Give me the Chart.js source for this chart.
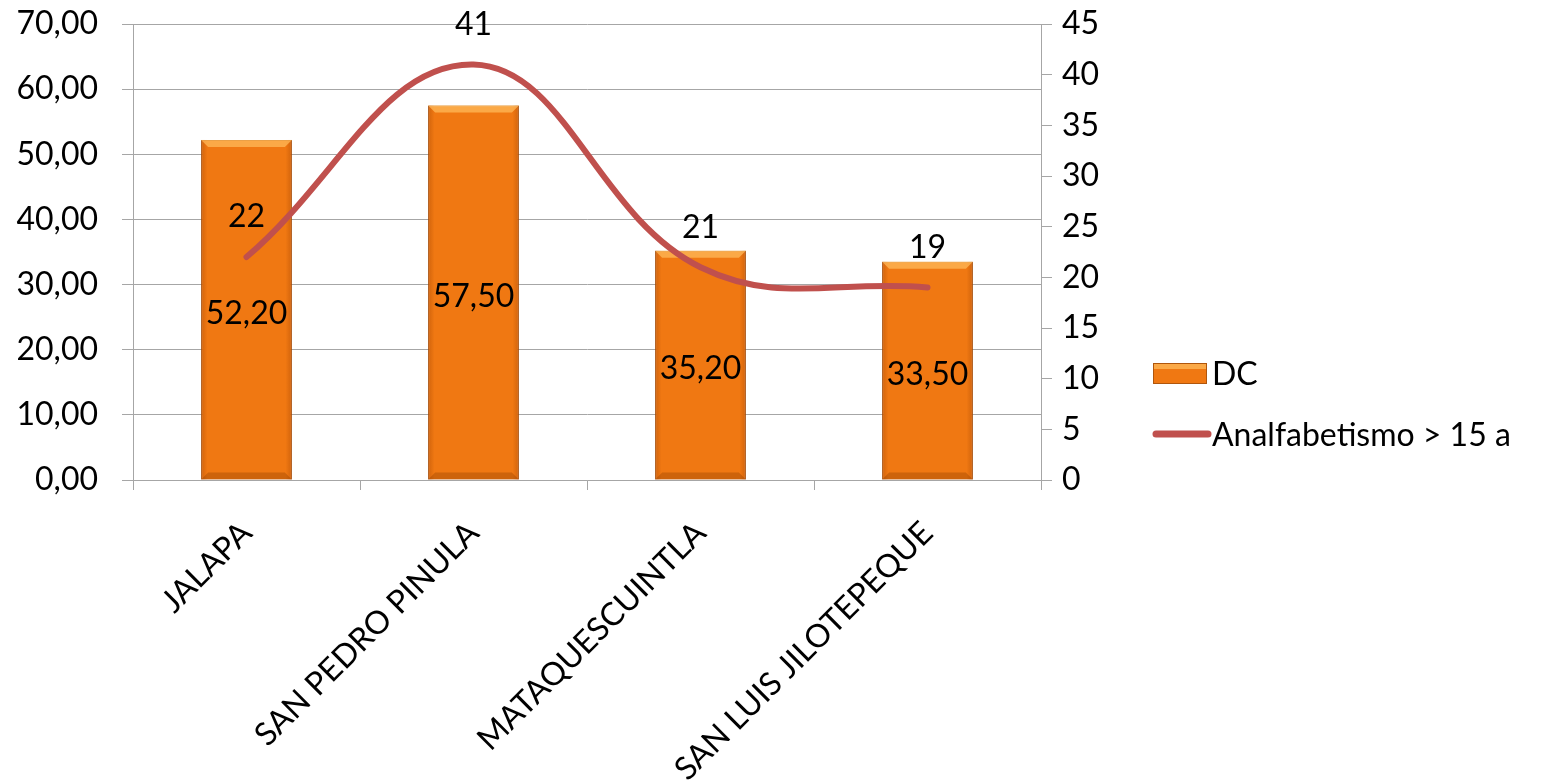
<!DOCTYPE html>
<html>
<head>
<meta charset="utf-8">
<script src="https://cdn.jsdelivr.net/npm/chart.js@4"></script>
<style>
  html, body { margin: 0; padding: 0; background: #fff; }
  #wrap { width: 1544px; height: 783px; }
</style>
</head>
<body>
<div id="wrap"><canvas id="chart" width="1544" height="783"></canvas></div>
<script>
const municipios = ["JALAPA", "SAN PEDRO PINULA", "MATAQUESCUINTLA", "SAN LUIS JILOTEPEQUE"];
const dc = [52.2, 57.5, 35.2, 33.5];
const analfabetismo = [22, 41, 21, 19];

const font = "Lato, 'Open Sans', sans-serif";
const fontSize = 32;
const barColor = "#F07812";
const lineColor = "#C0504D";
const gridColor = "#A6A6A6";

const comma = (v, d) => v.toFixed(d).replace(".", ",");

// value labels drawn on top of bars and line points
const valueLabels = {
  id: "valueLabels",
  afterDatasetsDraw(chart) {
    const ctx = chart.ctx;
    ctx.save();
    ctx.fillStyle = "#000";
    ctx.font = fontSize + "px " + font;
    ctx.textAlign = "center";
    ctx.textBaseline = "middle";
    chart.getDatasetMeta(0).data.forEach((bar, i) => {
      ctx.fillText(comma(dc[i], 2), bar.x, (bar.y + bar.base) / 2 + 4);
    });
    chart.getDatasetMeta(1).data.forEach((pt, i) => {
      ctx.fillText(String(analfabetismo[i]), pt.x, pt.y - 40);
    });
    ctx.restore();
  }
};

// bevel-ish shading on the bars
const barShade = {
  id: "barShade",
  afterDatasetDraw(chart, args) {
    if (args.index !== 0) return;
    const ctx = chart.ctx;
    ctx.save();
    args.meta.data.forEach((bar) => {
      const l = bar.x - bar.width / 2, r = bar.x + bar.width / 2;
      const t = bar.y, b = bar.base, e = 7;
      const g = ctx.createLinearGradient(l, 0, r, 0);
      g.addColorStop(0, "rgba(150,60,0,0.35)");
      g.addColorStop(0.07, "rgba(150,60,0,0)");
      g.addColorStop(0.93, "rgba(150,60,0,0)");
      g.addColorStop(1, "rgba(150,60,0,0.35)");
      ctx.fillStyle = g;
      ctx.fillRect(l, t, r - l, b - t);
      ctx.fillStyle = "rgba(255,185,90,0.75)";
      ctx.beginPath();
      ctx.moveTo(l, t); ctx.lineTo(r, t); ctx.lineTo(r - e, t + e); ctx.lineTo(l + e, t + e);
      ctx.closePath(); ctx.fill();
      ctx.fillStyle = "rgba(140,60,0,0.35)";
      ctx.beginPath();
      ctx.moveTo(l, b); ctx.lineTo(r, b); ctx.lineTo(r - e, b - e); ctx.lineTo(l + e, b - e);
      ctx.closePath(); ctx.fill();
    });
    ctx.restore();
  }
};

// legend on the right
const sideLegend = {
  id: "sideLegend",
  afterDraw(chart) {
    const ctx = chart.ctx;
    ctx.save();
    ctx.font = fontSize + "px " + font;
    ctx.textBaseline = "middle";
    const x = 1153, y1 = 373, y2 = 434;
    ctx.fillStyle = barColor;
    ctx.fillRect(x, y1 - 10, 54, 21);
    ctx.strokeStyle = "#B0560C";
    ctx.lineWidth = 1;
    ctx.strokeRect(x + 0.5, y1 - 9.5, 53, 20);
    ctx.fillStyle = "rgba(255,185,90,0.75)";
    ctx.fillRect(x + 1, y1 - 9, 52, 5);
    ctx.strokeStyle = lineColor;
    ctx.lineWidth = 7;
    ctx.lineCap = "round";
    ctx.beginPath();
    ctx.moveTo(x + 3, y2); ctx.lineTo(x + 55, y2);
    ctx.stroke();
    ctx.fillStyle = "#000";
    ctx.fillText(chart.data.datasets[0].label, 1212, y1 + 2);
    ctx.fillText(chart.data.datasets[1].label, 1212, y2 + 2);
    ctx.restore();
  }
};

const noPad = (s) => { s.paddingTop = 0; s.paddingBottom = 0; };

const config = {
  data: {
    labels: municipios,
    datasets: [
      {
        type: "bar",
        label: "DC",
        data: dc,
        yAxisID: "y",
        backgroundColor: barColor,
        borderColor: "#B0560C",
        borderWidth: 1,
        barPercentage: 0.4,
        categoryPercentage: 1,
        order: 1
      },
      {
        type: "line",
        label: "Analfabetismo > 15 a",
        data: analfabetismo,
        yAxisID: "y1",
        borderColor: lineColor,
        backgroundColor: lineColor,
        borderWidth: 6,
        borderCapStyle: "round",
        tension: 0.4,
        pointRadius: 0,
        fill: false,
        order: 0
      }
    ]
  },
  options: {
    responsive: false,
    animation: false,
    layout: { padding: { top: 24, right: 443, left: 0, bottom: 0 } },
    plugins: {
      legend: { display: false },
      tooltip: { enabled: false }
    },
    scales: {
      x: {
        offset: true,
        afterFit: (s) => { s.height = 303; },
        grid: { display: true, drawOnChartArea: false, offset: true, tickLength: 10, color: gridColor },
        border: { color: gridColor },
        ticks: { color: "#000", font: { family: font, size: fontSize }, minRotation: 45, maxRotation: 45, padding: 24 }
      },
      y: {
        position: "left",
        min: 0, max: 70,
        afterFit: (s) => { s.width = 133; noPad(s); },
        grid: { color: gridColor, tickLength: 11 },
        border: { color: gridColor },
        ticks: { stepSize: 10, color: "#000", font: { family: font, size: fontSize }, padding: 24,
          callback: (v) => comma(v, 2) }
      },
      y1: {
        position: "right",
        min: 0, max: 45,
        afterFit: (s) => { s.width = 60; noPad(s); },
        grid: { drawOnChartArea: false, color: gridColor, tickLength: 11 },
        border: { color: gridColor },
        ticks: { stepSize: 5, color: "#000", font: { family: font, size: fontSize }, padding: 10 }
      }
    }
  },
  plugins: [barShade, valueLabels, sideLegend]
};

window.onload = function () {
  const ctx = document.getElementById("chart").getContext("2d");
  window.chart = new Chart(ctx, config);
};
</script>
</body>
</html>
